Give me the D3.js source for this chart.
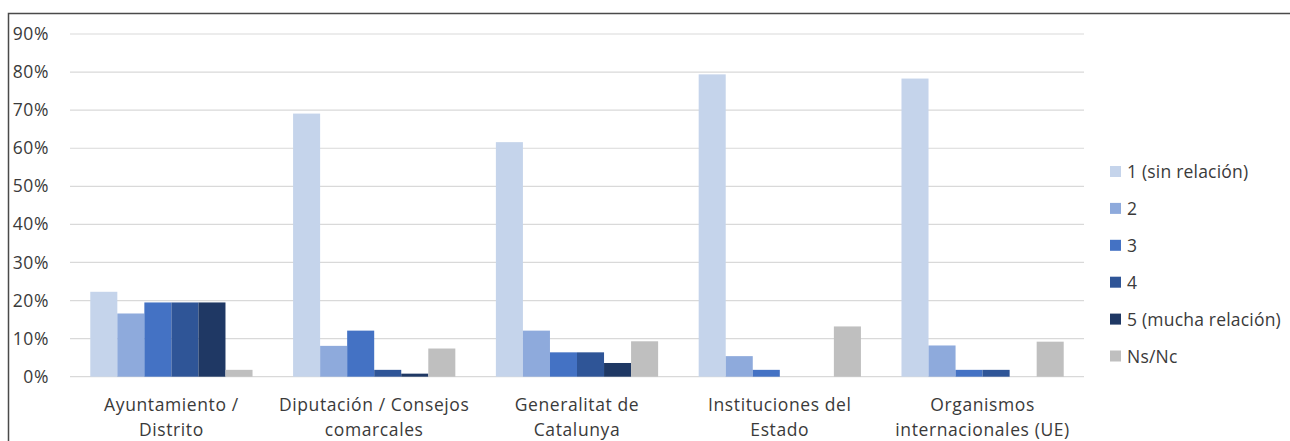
<!DOCTYPE html>
<html><head><meta charset="utf-8">
<script src="https://cdn.jsdelivr.net/npm/d3@7"></script>
<style>
html,body{margin:0;padding:0;background:#fff;}
svg{display:block;}
text{font-family:"Open Sans",sans-serif;fill:#3a3a3a;letter-spacing:0.6px;}
text.leg{letter-spacing:0.2px;}
</style></head>
<body><svg id="c" width="1290" height="441"></svg>
<script>
const categories = [
  ["Ayuntamiento /","Distrito"],
  ["Diputación / Consejos","comarcales"],
  ["Generalitat de","Catalunya"],
  ["Instituciones del","Estado"],
  ["Organismos","internacionales (UE)"]
];
const seriesNames = ["1 (sin relación)","2","3","4","5 (mucha relación)","Ns/Nc"];
const seriesColors = ["#c5d4eb","#8eaadc","#4472c4","#2f5597","#1f3864","#bfbfbf"];
const s1 = [22.3, 69.1, 61.6, 79.4, 78.3];
const s2 = [16.6, 8.1, 12.1, 5.4, 8.2];
const s3 = [19.5, 12.1, 6.4, 1.8, 1.8];
const s4 = [19.5, 1.8, 6.4, 0, 1.8];
const s5 = [19.5, 0.8, 3.6, 0, 0];
const sNs = [1.8, 7.4, 9.3, 13.2, 9.2];
const yTicks = [0,10,20,30,40,50,60,70,80,90];

const series = [s1,s2,s3,s4,s5,sNs];
const svg = d3.select("#c");
const pLeft = 70, pRight = 1084, pTop = 34, pBottom = 376.7;
const fs = "17.5px";

// border
svg.append("path").attr("d","M8.5,441 L8.5,13.5 L1290,13.5")
  .attr("fill","none").attr("stroke","#4a4a4a").attr("stroke-width",1.5);

const y = d3.scaleLinear().domain([0,90]).range([pBottom, pTop]);
const x0 = d3.scaleBand().domain(d3.range(categories.length)).range([pLeft,pRight]).padding(0);
const x1 = d3.scaleBand().domain(d3.range(series.length))
  .range([x0.bandwidth()*0.1, x0.bandwidth()*0.9]).padding(0);

// gridlines
svg.append("g").selectAll("line").data(yTicks).join("line")
  .attr("x1",pLeft).attr("x2",pRight)
  .attr("y1",d=>y(d)).attr("y2",d=>y(d))
  .attr("stroke","#d9d9d9").attr("stroke-width",1.2);

// y axis labels
const yAxis = d3.axisLeft(y).tickValues(yTicks).tickFormat(d=>d+"%").tickSize(0).tickPadding(0);
const ga = svg.append("g").attr("transform","translate(49,0)").call(yAxis);
ga.select(".domain").remove();
ga.selectAll("text").style("font-family","'Open Sans',sans-serif").style("font-size",fs).attr("fill","#3a3a3a");

// bars
const g = svg.append("g");
categories.forEach((c,i)=>{
  series.forEach((s,j)=>{
    if (s[i] <= 0) return;
    g.append("rect")
      .attr("x", x0(i)+x1(j))
      .attr("width", x1.bandwidth())
      .attr("y", y(s[i]))
      .attr("height", y(0)-y(s[i]))
      .attr("fill", seriesColors[j]);
  });
});

// x labels
categories.forEach((c,i)=>{
  const cx = x0(i)+x0.bandwidth()/2;
  c.forEach((line,k)=>{
    svg.append("text").attr("x",cx).attr("y",404+k*24.5)
      .attr("text-anchor","middle").attr("dominant-baseline","central")
      .style("font-size",fs).text(line);
  });
});

// legend
const lg = svg.append("g");
seriesNames.forEach((n,j)=>{
  const cy = 171 + j*36.9;
  lg.append("rect").attr("x",1110).attr("y",cy-5).attr("width",11).attr("height",11).attr("fill",seriesColors[j]);
  lg.append("text").attr("class","leg").attr("x",1127).attr("y",cy).attr("dominant-baseline","central")
    .style("font-size",fs).text(n);
});
</script></body></html>
